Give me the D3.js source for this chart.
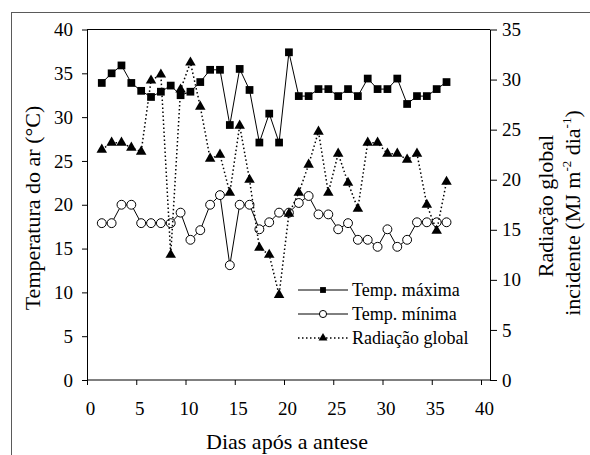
<!DOCTYPE html>
<html>
<head>
<meta charset="utf-8">
<script src="https://cdn.jsdelivr.net/npm/d3@7"></script>
<style>
  body { margin: 0; background: #fff; }
  svg { display: block; font-family: "Liberation Serif", "Times New Roman", serif; }
</style>
</head>
<body>
<div id="chart"></div>
<script>
// days after anthesis (points sit half a day past each integer)
const days = [1.5, 2.5, 3.5, 4.5, 5.5, 6.5, 7.5, 8.5, 9.5, 10.5, 11.5, 12.5,
  13.5, 14.5, 15.5, 16.5, 17.5, 18.5, 19.5, 20.5, 21.5, 22.5, 23.5, 24.5,
  25.5, 26.5, 27.5, 28.5, 29.5, 30.5, 31.5, 32.5, 33.5, 34.5, 35.5, 36.5];
const tMax = [33.9, 35.0, 35.9, 33.9, 33.0, 32.3, 32.9, 33.6, 32.5, 32.9, 34.0, 35.4,
  35.4, 29.1, 35.5, 33.1, 27.1, 30.4, 27.1, 37.4, 32.4, 32.4, 33.2, 33.2,
  32.4, 33.2, 32.4, 34.4, 33.2, 33.2, 34.4, 31.5, 32.4, 32.4, 33.2, 34.0];
const tMin = [17.9, 17.9, 20.0, 20.0, 17.9, 17.9, 17.9, 17.9, 19.1, 16.0, 17.1, 20.0,
  21.1, 13.1, 20.0, 20.0, 17.2, 18.0, 19.1, 19.1, 20.2, 21.0, 18.9, 18.9,
  17.2, 17.9, 16.0, 16.0, 15.2, 17.2, 15.2, 16.0, 18.0, 18.0, 18.0, 18.0];
const rad = [23.0, 23.7, 23.7, 23.2, 22.8, 29.9, 30.5, 12.5, 29.0, 31.7, 27.3, 22.1,
  22.5, 18.7, 25.4, 20.0, 13.2, 12.5, 8.5, 16.6, 18.7, 21.5, 24.8, 18.7,
  22.6, 19.7, 17.1, 23.7, 23.7, 22.6, 22.6, 22.0, 22.6, 17.5, 14.9, 19.8];

const xTicks = [0, 5, 10, 15, 20, 25, 30, 35, 40];
const yLeftTicks = [0, 5, 10, 15, 20, 25, 30, 35, 40];
const yRightTicks = [0, 5, 10, 15, 20, 25, 30, 35];
const legendLabels = ["Temp. máxima", "Temp. mínima", "Radiação global"];

const width = 590, height = 455;
const plot = {left: 87, right: 490, top: 29.5, bottom: 380};

const svg = d3.select("#chart").append("svg")
  .attr("width", width)
  .attr("height", height);

// outer chart border (runs off the right and bottom of the picture)
svg.append("rect")
  .attr("x", 11.5).attr("y", 12.5)
  .attr("width", 700).attr("height", 600)
  .attr("fill", "#fff")
  .attr("stroke", "#5a5a5a")
  .attr("stroke-width", 1);

const xScale = d3.scaleLinear([0, 40], [plot.left, 481]);
const yLeft = d3.scaleLinear([0, 40], [plot.bottom, plot.top]);
const yRight = d3.scaleLinear([0, 35], [plot.bottom, plot.top]);

// top border of plot area
svg.append("line")
  .attr("x1", plot.left).attr("x2", plot.right)
  .attr("y1", plot.top).attr("y2", plot.top)
  .attr("stroke", "#000");

// bottom axis
const xAxis = svg.append("g")
  .attr("transform", `translate(0,${plot.bottom})`)
  .call(d3.axisBottom(xScale).tickValues(xTicks).tickSize(5).tickSizeOuter(0).tickPadding(17));
xAxis.select(".domain").remove();
xAxis.append("line")
  .attr("x1", plot.left).attr("x2", plot.right)
  .attr("stroke", "#000");

const yAxisL = svg.append("g")
  .attr("transform", `translate(${plot.left},0)`)
  .call(d3.axisLeft(yLeft).tickValues(yLeftTicks).tickSize(5).tickSizeOuter(0).tickPadding(9));

const yAxisR = svg.append("g")
  .attr("transform", `translate(${plot.right},0)`)
  .call(d3.axisRight(yRight).tickValues(yRightTicks).tickSize(7).tickSizeOuter(0).tickPadding(5));

svg.selectAll(".tick text")
  .attr("font-family", "Liberation Serif")
  .attr("font-size", 19)
  .attr("fill", "#000");
xAxis.selectAll(".tick text").attr("dx", 3);
svg.selectAll(".tick line, .domain").attr("stroke", "#000");

// axis titles
svg.append("text")
  .attr("x", (plot.left + 481) / 2 + 3)
  .attr("y", 449)
  .attr("text-anchor", "middle")
  .attr("font-size", 22)
  .text("Dias após a antese");

svg.append("text")
  .attr("transform", "translate(40,208) rotate(-90)")
  .attr("text-anchor", "middle")
  .attr("font-size", 22)
  .text("Temperatura do ar (°C)");

svg.append("text")
  .attr("transform", "translate(553,206) rotate(-90)")
  .attr("text-anchor", "middle")
  .attr("font-size", 22)
  .text("Radiação global");

const t2 = svg.append("text")
  .attr("transform", "translate(580,213) rotate(-90)")
  .attr("text-anchor", "middle")
  .attr("font-size", 22);
t2.append("tspan").text("incidente (MJ m");
t2.append("tspan").attr("font-size", 13).attr("dy", -9).text("-2");
t2.append("tspan").attr("dy", 9).text(" dia");
t2.append("tspan").attr("font-size", 13).attr("dy", -9).text("-1");
t2.append("tspan").attr("dy", 9).text(")");

// series
const I = d3.range(days.length);
const lineMax = d3.line().x(i => xScale(days[i])).y(i => yLeft(tMax[i]));
const lineMin = d3.line().x(i => xScale(days[i])).y(i => yLeft(tMin[i]));
const lineRad = d3.line().x(i => xScale(days[i])).y(i => yRight(rad[i]));

svg.append("path").datum(I)
  .attr("d", lineMax).attr("fill", "none").attr("stroke", "#000").attr("stroke-width", 1);
svg.append("g").selectAll("path").data(I).join("path")
  .attr("transform", i => `translate(${xScale(days[i])},${yLeft(tMax[i])})`)
  .attr("d", d3.symbol(d3.symbolSquare, 60))
  .attr("fill", "#000");

svg.append("path").datum(I)
  .attr("d", lineMin).attr("fill", "none").attr("stroke", "#000").attr("stroke-width", 1);
svg.append("g").selectAll("path").data(I).join("path")
  .attr("transform", i => `translate(${xScale(days[i])},${yLeft(tMin[i])})`)
  .attr("d", d3.symbol(d3.symbolCircle, 62))
  .attr("fill", "#fff").attr("stroke", "#000").attr("stroke-width", 1);

svg.append("path").datum(I)
  .attr("d", lineRad).attr("fill", "none").attr("stroke", "#000")
  .attr("stroke-width", 1.5).attr("stroke-dasharray", "1.5,2.5");
svg.append("g").selectAll("path").data(I).join("path")
  .attr("transform", i => `translate(${xScale(days[i])},${yRight(rad[i])})`)
  .attr("d", d3.symbol(d3.symbolTriangle, 48))
  .attr("fill", "#000");

// legend
const legend = svg.append("g").attr("transform", "translate(298,0)");
const legendY = [290, 314, 338];
const legendSym = [d3.symbolSquare, d3.symbolCircle, d3.symbolTriangle];
legendLabels.forEach((label, k) => {
  const g = legend.append("g").attr("transform", `translate(0,${legendY[k]})`);
  g.append("line").attr("x1", 0).attr("x2", 50)
    .attr("stroke", "#000")
    .attr("stroke-width", k === 2 ? 1.5 : 1)
    .attr("stroke-dasharray", k === 2 ? "1.5,2.5" : null);
  g.append("path")
    .attr("transform", "translate(25,0)")
    .attr("d", d3.symbol(legendSym[k], k === 1 ? 40 : 34))
    .attr("fill", k === 1 ? "#fff" : "#000")
    .attr("stroke", k === 1 ? "#000" : "none");
  g.append("text").attr("x", 54).attr("dy", "0.32em")
    .attr("font-size", 18)
    .text(label);
});
</script>
</body>
</html>
